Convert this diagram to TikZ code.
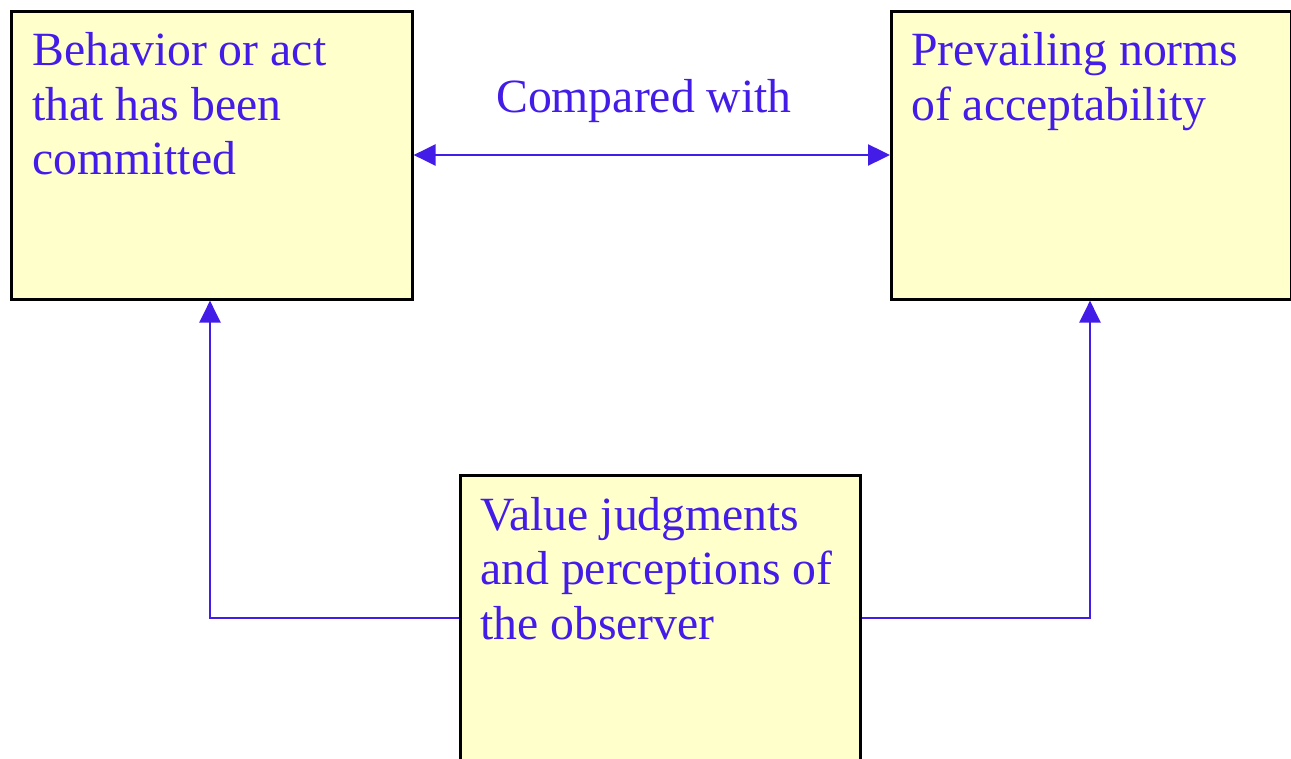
\documentclass[tikz,border=0pt]{standalone}
\usepackage{fontspec}
\setmainfont{Liberation Serif}
\usetikzlibrary{arrows.meta}
\definecolor{boxfill}{RGB}{255,255,204}
\definecolor{txt}{RGB}{68,28,232}
\tikzset{
  box/.style={draw=black, line width=2.6pt, fill=boxfill, inner sep=0pt},
  lbl/.style={text=txt, align=left, inner sep=0pt, anchor=base west,
    font=\fontsize{47.7}{54.5}\selectfont},
  conn/.style={draw=txt, line width=2.4pt},
  tip/.style={-{Triangle[length=22pt,width=21pt]}},
}
\begin{document}
\begin{tikzpicture}[x=1pt,y=-1pt]
\useasboundingbox (0,0) rectangle (1291,759);
\clip (0,0) rectangle (1291,759);
\fill[white] (0,0) rectangle (1291,759);
\node[box, minimum width=401pt, minimum height=288pt, anchor=north west] (act) at (10,10) {};
\node[box, minimum width=400pt, minimum height=288pt, anchor=north west] (norms) at (890,10) {};
\node[box, minimum width=400pt, minimum height=310pt, anchor=north west] (obs) at (459,474) {};
\node[lbl] (acttext) at (32,175) {Behavior or act\\that has been\\committed};
\node[lbl] (normstext) at (911,120.5) {Prevailing norms\\of acceptability};
\node[lbl] (obstext) at (480,639) {Value judgments\\and perceptions of\\the observer};
\node[lbl] (cmp) at (496,113) {Compared with};
\coordinate (la) at (210,618);
\coordinate (ra) at (1090,618);
\draw[conn, {Triangle[length=22pt,width=21pt]}-{Triangle[length=22pt,width=21pt]}] (act.east |- 0,155) -- (norms.west |- 0,155);
\draw[conn, tip] (obs.west |- la) -- (la) -- (act.south -| la);
\draw[conn, tip] (obs.east |- ra) -- (ra) -- (norms.south -| ra);
\end{tikzpicture}
\end{document}
